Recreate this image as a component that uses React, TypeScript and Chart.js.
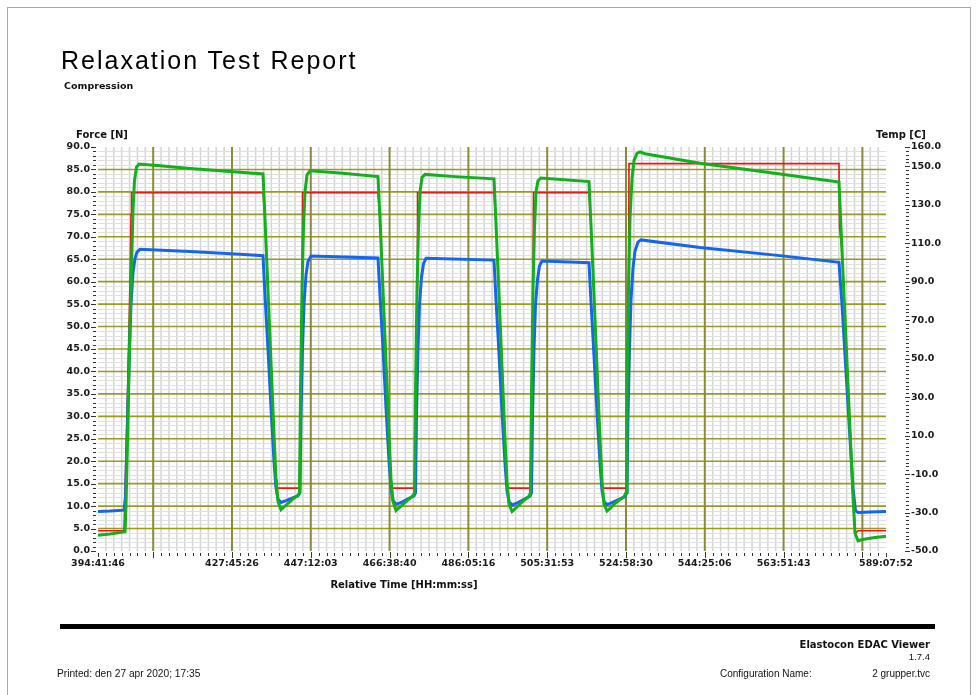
import React, { useEffect, useRef } from "react";
import { Chart, registerables } from "chart.js";

Chart.register(...registerables);

// ---- axis labels / ticks ----
const xRangeLabels = ["394:41:46", "589:07:52"];
const xMajorLabels = [
  "408:18:49", "427:45:26", "447:12:03", "466:38:40", "486:05:16",
  "505:31:53", "524:58:30", "544:25:06", "563:51:43", "583:18:20",
];
const xHiddenLabels = ["408:18:49", "583:18:20"];
const xMinorDivisions = 10;

const forceTickValues = [0, 5, 10, 15, 20, 25, 30, 35, 40, 45, 50, 55, 60, 65, 70, 75, 80, 85, 90];
const forceMinorStep = 1;
const tempTickValues = [-50, -30, -10, 10, 30, 50, 70, 90, 110, 130, 150, 160];
const tempMinorStep = 2;

// ---- series (time in hours, force in N) ----
const greenTime = [
  394.70, 397.66, 401.36, 401.61, 402.10, 402.59, 402.96, 403.33, 403.70, 404.20, 404.81,
  409.99, 417.40, 424.80, 429.73, 435.41,
  435.90, 436.64, 437.38, 438.12, 438.62, 439.11, 439.85,
  440.59, 441.58, 442.81, 444.05, 444.42,
  444.66, 445.03, 445.40, 445.77, 446.27, 447.01,
  454.41, 463.78,
  464.28, 465.02, 465.76, 466.50, 466.99, 467.49, 468.23,
  468.97, 469.95, 471.19, 472.42, 472.79,
  473.04, 473.41, 473.78, 474.15, 474.64, 475.38,
  482.78, 492.41,
  492.90, 493.64, 494.38, 495.12, 495.61, 496.11, 496.85,
  497.59, 498.58, 499.81, 501.04, 501.41,
  501.66, 502.03, 502.40, 502.77, 503.26, 504.00,
  515.85,
  516.34, 517.08, 517.82, 518.56, 519.05, 519.55, 520.29,
  521.03, 522.02, 523.25, 524.48, 524.98,
  525.22, 525.59, 525.96, 526.46, 526.95, 527.69, 528.43,
  529.66, 543.24, 562.98, 577.53,
  578.27, 579.26, 580.25, 580.99, 581.48, 582.22,
  583.70, 586.42, 589.13,
];
const greenForce = [
  3.5, 3.8, 4.3, 10, 30, 50, 63, 76, 82.5, 85.5, 86.2,
  85.8, 85.2, 84.7, 84.4, 84.0,
  74, 58, 42, 26, 16, 11, 9.2,
  9.8, 10.6, 11.6, 12.4, 13,
  35, 58, 72, 80, 83.8, 84.7,
  84.2, 83.4,
  74, 58, 42, 26, 16, 11, 9.0,
  9.6, 10.4, 11.4, 12.3, 13,
  35, 58, 72, 80, 83.2, 83.9,
  83.4, 82.9,
  73, 57, 41, 25, 15.5, 10.5, 8.8,
  9.4, 10.3, 11.3, 12.2, 13,
  35, 58, 72, 80, 82.5, 83.1,
  82.3,
  72.5, 57, 41, 25, 15.5, 10.5, 8.9,
  9.5, 10.4, 11.3, 12.1, 13,
  35, 58, 74, 83, 87, 88.6, 88.9,
  88.5, 86.4, 84.0, 82.2,
  67, 47, 27, 12, 4, 2.3,
  2.6, 3.0, 3.3,
];

const blueTime = [
  394.70, 397.66, 401.11, 401.48, 401.85, 402.35, 402.84, 403.33, 403.83, 404.32, 405.06,
  417.40, 429.73, 435.41,
  435.90, 436.64, 437.38, 438.12, 438.62, 439.11, 439.85,
  441.08, 442.56, 444.05, 444.54,
  444.79, 445.16, 445.53, 446.02, 446.51, 447.25,
  463.78,
  464.28, 465.02, 465.76, 466.50, 466.99, 467.49, 468.23,
  469.71, 471.19, 472.67, 473.04,
  473.28, 473.65, 474.02, 474.52, 475.01, 475.63,
  492.41,
  492.90, 493.64, 494.38, 495.12, 495.61, 496.11, 496.85,
  498.33, 499.81, 501.29, 501.66,
  501.91, 502.28, 502.65, 503.14, 503.63, 504.25,
  515.85,
  516.34, 517.08, 517.82, 518.56, 519.05, 519.55, 520.29,
  521.77, 523.25, 524.73, 525.22,
  525.47, 525.84, 526.21, 526.70, 527.20, 527.94, 528.68,
  543.24, 562.98, 577.53,
  578.27, 579.26, 580.25, 580.99, 581.60, 582.22,
  585.18, 589.13,
];
const blueForce = [
  8.8, 8.9, 9.1, 12, 25, 42, 55, 62, 65.2, 66.6, 67.2,
  66.7, 66.1, 65.8,
  57, 45, 32, 20, 14, 11.5, 10.8,
  11.2, 11.8, 12.3, 13,
  30, 45, 55, 61.5, 64.5, 65.7,
  65.3,
  57, 45, 32, 20, 14, 11.3, 10.4,
  10.9, 11.6, 12.3, 13,
  30, 45, 55, 61, 64, 65.2,
  64.8,
  56, 44, 31, 19.5, 13.5, 11, 10.2,
  10.8, 11.5, 12.2, 13,
  30, 45, 55, 60.5, 63.5, 64.6,
  64.2,
  55.5, 43.5, 31, 19.5, 13.5, 11, 10.3,
  10.9, 11.5, 12.1, 13,
  30, 45, 56, 63, 66.8, 68.8, 69.3,
  67.6, 65.8, 64.3,
  55, 40, 25, 14, 9, 8.6,
  8.7, 8.8,
];

const redTime = [
  394.70, 401.11, 401.85, 402.59, 402.84, 402.96,
  435.41,
  435.90, 436.64, 437.38, 438.12, 438.62, 438.86,
  444.42, 444.66, 445.03, 445.16,
  463.78,
  464.28, 465.02, 465.76, 466.50, 466.99, 467.24,
  472.79, 473.04, 473.41, 473.53,
  492.41,
  492.90, 493.64, 494.38, 495.12, 495.61, 495.74,
  501.41, 501.66, 502.03, 502.15,
  515.85,
  516.34, 517.08, 517.82, 518.56, 519.05, 519.18,
  524.98, 525.22, 525.59, 525.72,
  577.53,
  577.66, 578.27, 579.26, 580.25, 580.99, 581.60,
  582.22, 589.13,
];
const redForce = [
  4.5, 4.5, 30, 60, 75, 79.8,
  79.8,
  74, 58, 42, 26, 16, 14,
  14, 35, 58, 79.8,
  79.8,
  74, 58, 42, 26, 16, 14,
  14, 35, 58, 79.8,
  79.8,
  73, 57, 41, 25, 15.5, 14,
  14, 35, 58, 79.8,
  79.8,
  72.5, 57, 41, 25, 15.5, 14,
  14, 35, 58, 86.3,
  86.3,
  72, 67, 47, 27, 12, 3.9,
  4.5, 4.5,
];

function hms(s: string): number {
  const [h, m, sec] = s.split(":").map(Number);
  return h + m / 60 + sec / 3600;
}

const FONT = '"DejaVu Sans", Verdana, sans-serif';
const SANS = '"Liberation Sans", Arial, sans-serif';
const OLIVE_V = "#8a8a3a";
const OLIVE_H = "#9a9a22";
const MINOR_V = "#d4d4d4";
const MINOR_H = "#e0e0e0";
const TICK = "#333333";

const gridPlugin = {
  id: "reportGrid",
  beforeDatasetsDraw(chart: any) {
    const { ctx, chartArea: a, scales } = chart;
    const xs = scales.x;
    const ys = scales.y;
    const ts = scales.y2;
    const xMin = hms(xRangeLabels[0]);
    const xMax = hms(xRangeLabels[1]);
    const majors = xMajorLabels.map(hms);
    const step = majors[1] - majors[0];
    const minor = step / xMinorDivisions;
    const jStart = -Math.floor((majors[0] - xMin) / minor + 1e-6);
    const jEnd = Math.floor((xMax - majors[0]) / minor + 1e-6);
    const line = (x1: number, y1: number, x2: number, y2: number) => {
      ctx.beginPath();
      ctx.moveTo(x1, y1);
      ctx.lineTo(x2, y2);
      ctx.stroke();
    };
    ctx.save();
    // minor vertical
    ctx.strokeStyle = MINOR_V;
    ctx.lineWidth = 1.5;
    for (let j = jStart; j <= jEnd; j++) {
      if (j >= 0 && j % xMinorDivisions === 0) continue;
      const px = xs.getPixelForValue(majors[0] + j * minor);
      if (px <= a.left + 0.5 || px >= a.right - 0.5) continue;
      line(px, a.top, px, a.bottom);
    }
    // minor horizontal
    ctx.strokeStyle = MINOR_H;
    ctx.lineWidth = 1;
    for (let f = forceTickValues[0]; f <= forceTickValues[forceTickValues.length - 1]; f += forceMinorStep) {
      if (forceTickValues.includes(f)) continue;
      const py = Math.round(ys.getPixelForValue(f)) + 0.5;
      line(a.left, py, a.right, py);
    }
    // major horizontal
    ctx.strokeStyle = OLIVE_H;
    ctx.lineWidth = 1.6;
    forceTickValues.forEach((f) => {
      if (f === forceTickValues[0] || f === forceTickValues[forceTickValues.length - 1]) return;
      const py = ys.getPixelForValue(f);
      line(a.left, py, a.right, py);
    });
    // major vertical
    ctx.strokeStyle = OLIVE_V;
    ctx.lineWidth = 2;
    majors.forEach((v) => {
      const px = xs.getPixelForValue(v);
      line(px, a.top, px, a.bottom);
    });
    // tick marks
    ctx.strokeStyle = TICK;
    ctx.lineWidth = 1;
    for (let j = jStart; j <= jEnd; j++) {
      const isMajor = j >= 0 && j % xMinorDivisions === 0;
      const px = Math.round(xs.getPixelForValue(majors[0] + j * minor)) + 0.5;
      if (isMajor) line(px, a.bottom + 1, px, a.bottom + 7);
      else line(px, a.bottom + 2, px, a.bottom + 5);
    }
    [xMin, xMax].forEach((v) => {
      const px = Math.round(xs.getPixelForValue(v)) + 0.5;
      line(px, a.bottom + 2, px, a.bottom + 6);
    });
    for (let f = forceTickValues[0]; f <= forceTickValues[forceTickValues.length - 1]; f += forceMinorStep) {
      const py = Math.round(ys.getPixelForValue(f)) + 0.5;
      if (forceTickValues.includes(f)) line(a.left - 7, py, a.left - 2, py);
      else line(a.left - 5, py, a.left - 2, py);
    }
    const rx = a.right + 20;
    for (let t = tempTickValues[0]; t <= tempTickValues[tempTickValues.length - 1]; t += tempMinorStep) {
      const py = Math.round(ts.getPixelForValue(t)) + 0.5;
      if (tempTickValues.includes(t)) line(rx - 1, py, rx + 4, py);
      else line(rx, py, rx + 3, py);
    }
    ctx.restore();
  },
};

function toPoints(t: number[], v: number[]) {
  return t.map((x, i) => ({ x, y: v[i] }));
}

function ReportChart() {
  const ref = useRef<HTMLCanvasElement | null>(null);
  useEffect(() => {
    if (!ref.current) return;
    const xMin = hms(xRangeLabels[0]);
    const xMax = hms(xRangeLabels[1]);
    const xTickValues = [xMin, ...xMajorLabels.map(hms), xMax];
    const xTickText = [
      xRangeLabels[0],
      ...xMajorLabels.map((l) => (xHiddenLabels.includes(l) ? "" : l)),
      xRangeLabels[1],
    ];
    const tickFont = { family: FONT, size: 9.5, weight: "bold" as const };
    const chart = new Chart(ref.current, {
      type: "line",
      data: {
        datasets: [
          {
            label: "Green",
            data: toPoints(greenTime, greenForce),
            borderColor: "#11b01c",
            borderWidth: 3,
            pointRadius: 0,
            tension: 0,
            fill: false,
            yAxisID: "y",
          },
          {
            label: "Blue",
            data: toPoints(blueTime, blueForce),
            borderColor: "#1466f0",
            borderWidth: 3,
            pointRadius: 0,
            tension: 0,
            fill: false,
            yAxisID: "y",
          },
          {
            label: "Red",
            data: toPoints(redTime, redForce),
            borderColor: "#f01414",
            borderWidth: 1.6,
            pointRadius: 0,
            tension: 0,
            fill: false,
            yAxisID: "y",
          },
        ],
      },
      plugins: [gridPlugin],
      options: {
        animation: false,
        responsive: false,
        maintainAspectRatio: false,
        devicePixelRatio: 1,
        events: [],
        layout: { padding: { top: 147, left: 0, right: 0, bottom: 0 } },
        plugins: {
          legend: { display: false },
          tooltip: { enabled: false },
          title: { display: false },
        },
        scales: {
          x: {
            type: "linear",
            min: xMin,
            max: xMax,
            afterBuildTicks: (s: any) => {
              s.ticks = xTickValues.map((value) => ({ value }));
            },
            afterFit: (s: any) => {
              s.height = 144;
            },
            grid: { display: false, drawTicks: false },
            border: { display: false },
            ticks: {
              autoSkip: false,
              maxRotation: 0,
              minRotation: 0,
              padding: 7,
              color: "#1a1a1a",
              font: tickFont,
              callback: (_v: any, i: number) => xTickText[i],
            },
          },
          y: {
            type: "linear",
            position: "left",
            min: forceTickValues[0],
            max: forceTickValues[forceTickValues.length - 1],
            afterBuildTicks: (s: any) => {
              s.ticks = forceTickValues.map((value) => ({ value }));
            },
            afterFit: (s: any) => {
              s.width = 98;
            },
            grid: { display: false, drawTicks: false },
            border: { display: false },
            ticks: {
              padding: 8,
              color: "#1a1a1a",
              font: tickFont,
              callback: (v: any) => Number(v).toFixed(1),
            },
          },
          y2: {
            type: "linear",
            position: "right",
            display: true,
            min: tempTickValues[0],
            max: tempTickValues[tempTickValues.length - 1],
            afterBuildTicks: (s: any) => {
              s.ticks = tempTickValues.map((value) => ({ value }));
            },
            afterFit: (s: any) => {
              s.width = 92;
            },
            grid: { display: false, drawTicks: false },
            border: { display: false },
            ticks: {
              padding: 25,
              color: "#1a1a1a",
              font: tickFont,
              callback: (v: any) => Number(v).toFixed(1),
            },
          },
        },
      } as any,
    });
    return () => chart.destroy();
  }, []);
  return (
    <canvas
      ref={ref}
      width={978}
      height={695}
      style={{ position: "absolute", left: 0, top: 0, width: 978, height: 695 }}
    />
  );
}

const txt = (extra: React.CSSProperties): React.CSSProperties => ({
  position: "absolute",
  whiteSpace: "nowrap",
  lineHeight: 1,
  color: "#111",
  fontFamily: FONT,
  ...extra,
});

export default function App() {
  return (
    <div
      style={{
        position: "fixed",
        left: 0,
        top: 0,
        width: 978,
        height: 695,
        background: "#fff",
        overflow: "hidden",
      }}
    >
      <div
        style={{
          position: "absolute",
          left: 7,
          top: 7,
          width: 962,
          height: 720,
          border: "1px solid #a8a8a8",
        }}
      />
      <ReportChart />
      <div
        style={txt({
          left: 61,
          top: 48,
          fontFamily: SANS,
          fontSize: 25,
          letterSpacing: 2.0,
          color: "#000",
        })}
      >
        Relaxation Test Report
      </div>
      <div style={txt({ left: 64, top: 81, fontSize: 9.5, fontWeight: "bold" })}>Compression</div>
      <div style={txt({ left: 76, top: 130, fontSize: 10, fontWeight: "bold" })}>Force [N]</div>
      <div style={txt({ left: 876, top: 130, fontSize: 10, fontWeight: "bold" })}>Temp [C]</div>
      <div
        style={txt({
          left: 304,
          width: 200,
          textAlign: "center",
          top: 580,
          fontSize: 10,
          fontWeight: "bold",
        })}
      >
        Relative Time [HH:mm:ss]
      </div>
      <div style={{ position: "absolute", left: 60, top: 624, width: 875, height: 5, background: "#000" }} />
      <div style={txt({ right: 48, top: 640, fontSize: 10, fontWeight: "bold" })}>Elastocon EDAC Viewer</div>
      <div style={txt({ right: 48, top: 652, fontSize: 9.5, fontFamily: SANS })}>1.7.4</div>
      <div style={txt({ left: 57, top: 669, fontSize: 10.2, fontFamily: SANS })}>
        Printed: den 27 apr 2020; 17:35
      </div>
      <div style={txt({ left: 720, top: 669, fontSize: 10, fontFamily: SANS })}>Configuration Name:</div>
      <div style={txt({ right: 48, top: 669, fontSize: 10, fontFamily: SANS })}>2 grupper.tvc</div>
    </div>
  );
}
